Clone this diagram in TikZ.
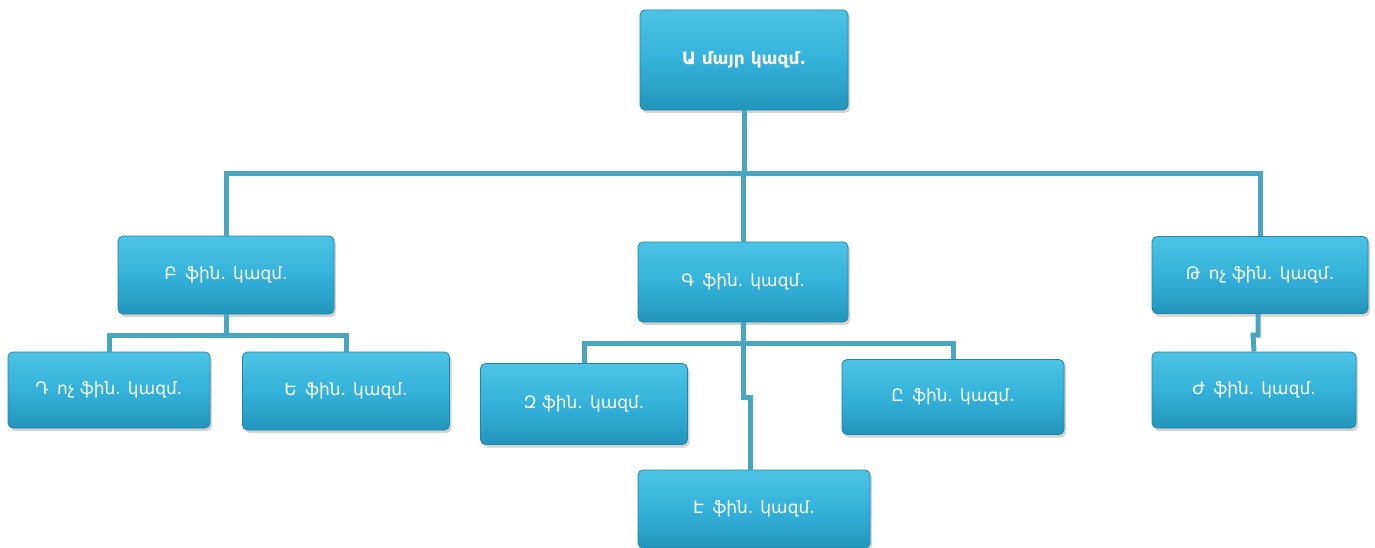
\documentclass[tikz,border=0pt]{standalone}
\usepackage{fontspec}
\setmainfont{DejaVu Sans}
\usetikzlibrary{shadows,calc}
\definecolor{boxtop}{HTML}{4CC3E3}
\definecolor{boxmid}{HTML}{34B2DA}
\definecolor{boxbot}{HTML}{2395BC}
\definecolor{boxedge}{HTML}{1F86A8}
\definecolor{linec}{HTML}{4AA5C1}
\tikzset{
  orgbox/.style={rectangle, rounded corners=5pt, draw=boxedge, line width=0.8pt,
    top color=boxtop, bottom color=boxbot, middle color=boxmid,
    text=white, font=\fontsize{17}{20}\selectfont, align=center, inner sep=0pt,
    drop shadow={shadow xshift=2pt, shadow yshift=-3pt, opacity=0.35}},
  link/.style={draw=linec, line width=5pt}
}
\newcommand{\gp}{\hspace{0.5em}}
\begin{document}
\begin{tikzpicture}[x=1pt,y=-1pt]
\useasboundingbox (0,0) rectangle (1375,548);
% nodes
\node[orgbox, minimum width=208pt, minimum height=100pt, font=\fontsize{17}{20}\selectfont\bfseries] (A) at (744,60) {Ա մայր կազմ.};
\node[orgbox, minimum width=216pt, minimum height=78pt] (B) at (226,275) {Բ\gp ֆին. կազմ.};
\node[orgbox, minimum width=210pt, minimum height=80pt] (G) at (743,282) {Գ\gp ֆին. կազմ.};
\node[orgbox, minimum width=216pt, minimum height=77pt] (T) at (1260,275) {Թ\gp ոչ ֆին. կազմ.};
\node[orgbox, minimum width=202pt, minimum height=76pt] (D) at (109,390) {Դ\gp ոչ ֆին. կազմ.};
\node[orgbox, minimum width=207pt, minimum height=78pt] (E) at (346,391) {Ե\gp ֆին. կազմ.};
\node[orgbox, minimum width=207pt, minimum height=81pt] (Z) at (584,404) {Զ ֆին. կազմ.};
\node[orgbox, minimum width=222pt, minimum height=75pt] (Y) at (953,397) {Ը\gp ֆին. կազմ.};
\node[orgbox, minimum width=232pt, minimum height=78pt] (H) at (754,509) {Է\gp ֆին. կազմ.};
\node[orgbox, minimum width=204pt, minimum height=76pt] (J) at (1254,390) {Ժ\gp ֆին. կազմ.};
% junction coordinates
\coordinate (busA) at (744,174);
\coordinate (busB) at (226,335);
\coordinate (busG) at (743,343);
\coordinate (jogH) at (743,397);
\coordinate (jogJ) at (1258,335);
% connectors
\draw[link] (A.south) -- (busA);
\draw[link] (B.north) -- (B.north |- busA) -- (T.north |- busA) -- (T.north);
\draw[link] (G.north) -- (G.north |- busA);
\draw[link] (B.south) -- (busB);
\draw[link] (D.north) -- (D.north |- busB) -- (E.north |- busB) -- (E.north);
\draw[link] (G.south) -- (busG);
\draw[link] (Z.north) -- (Z.north |- busG) -- (Y.north |- busG) -- (Y.north);
\draw[link] (busG) -- (jogH) -- ($(jogH)+(7,0)$) -- ($(H.north)+(-4,0)$);
\draw[link] (T.south -| jogJ) -- (jogJ) -- ($(jogJ)+(-5,0)$) -- (J.north);
\end{tikzpicture}
\end{document}
